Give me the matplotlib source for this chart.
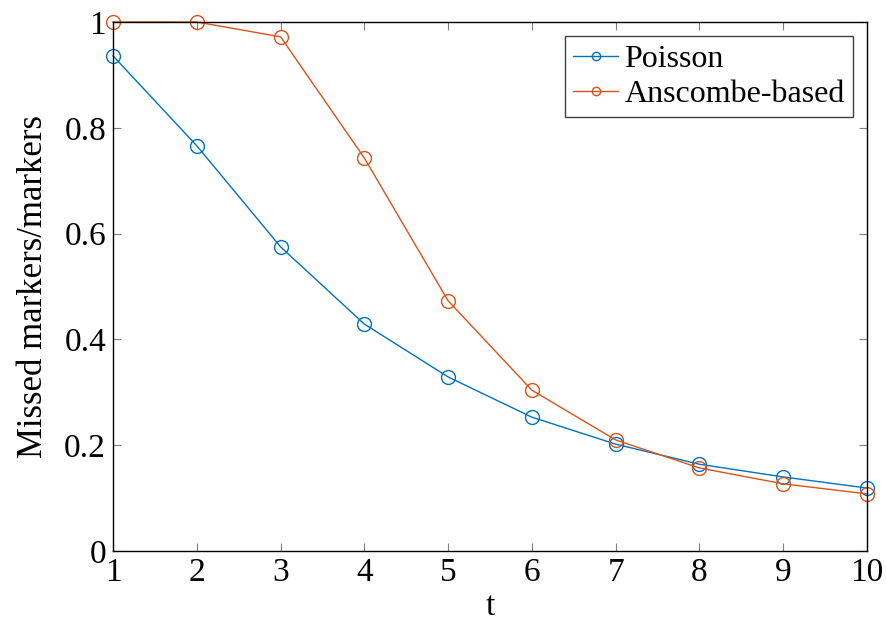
import matplotlib
matplotlib.use("Agg")
import matplotlib.pyplot as plt

t = [1, 2, 3, 4, 5, 6, 7, 8, 9, 10]
poisson = [0.936, 0.766, 0.575, 0.429, 0.329, 0.253, 0.202, 0.164, 0.140, 0.119]
anscombe = [1.0, 1.0, 0.972, 0.743, 0.473, 0.304, 0.210, 0.157, 0.127, 0.108]

plt.rcParams['font.family'] = ['Liberation Serif', 'DejaVu Serif']
plt.rcParams['mathtext.fontset'] = 'stix'

fig = plt.figure(figsize=(8.86, 6.28), dpi=100)
ax = fig.add_axes([113/886, 77/628, (867-113)/886, (551-22)/628])

ax.plot(t, poisson, color='#0072BD', lw=1.0, marker='o', ms=10, mfc='none',
        mec='#0072BD', mew=1.0, label='Poisson', clip_on=False)
ax.plot(t, anscombe, color='#D95319', lw=1.0, marker='o', ms=10, mfc='none',
        mec='#D95319', mew=1.0, label='Anscombe-based', clip_on=False)

ax.set_xlim(1, 10)
ax.set_ylim(0, 1)
ax.set_xticks(t)
ax.set_yticks([0, 0.2, 0.4, 0.6, 0.8, 1])
ax.set_yticklabels(['0', '0.2', '0.4', '0.6', '0.8', '1'])
ax.tick_params(direction='in', length=6, color='#808080', labelsize=24,
               top=True, right=True, pad=5)
for s in ax.spines.values():
    s.set_linewidth(1.0)

ax.set_xlabel('t', fontsize=24, labelpad=2)
ax.set_ylabel('Missed markers/markers', fontsize=25, labelpad=10)

leg = ax.legend(loc='upper right', fontsize=23, frameon=True, fancybox=False,
                edgecolor='#404040', framealpha=1, handlelength=1.4,
                borderpad=0.25, labelspacing=0.2, handletextpad=0.2,
                borderaxespad=0.45, markerscale=0.6)
leg.get_frame().set_linewidth(1.0)

fig.savefig('out.png', dpi=100)
